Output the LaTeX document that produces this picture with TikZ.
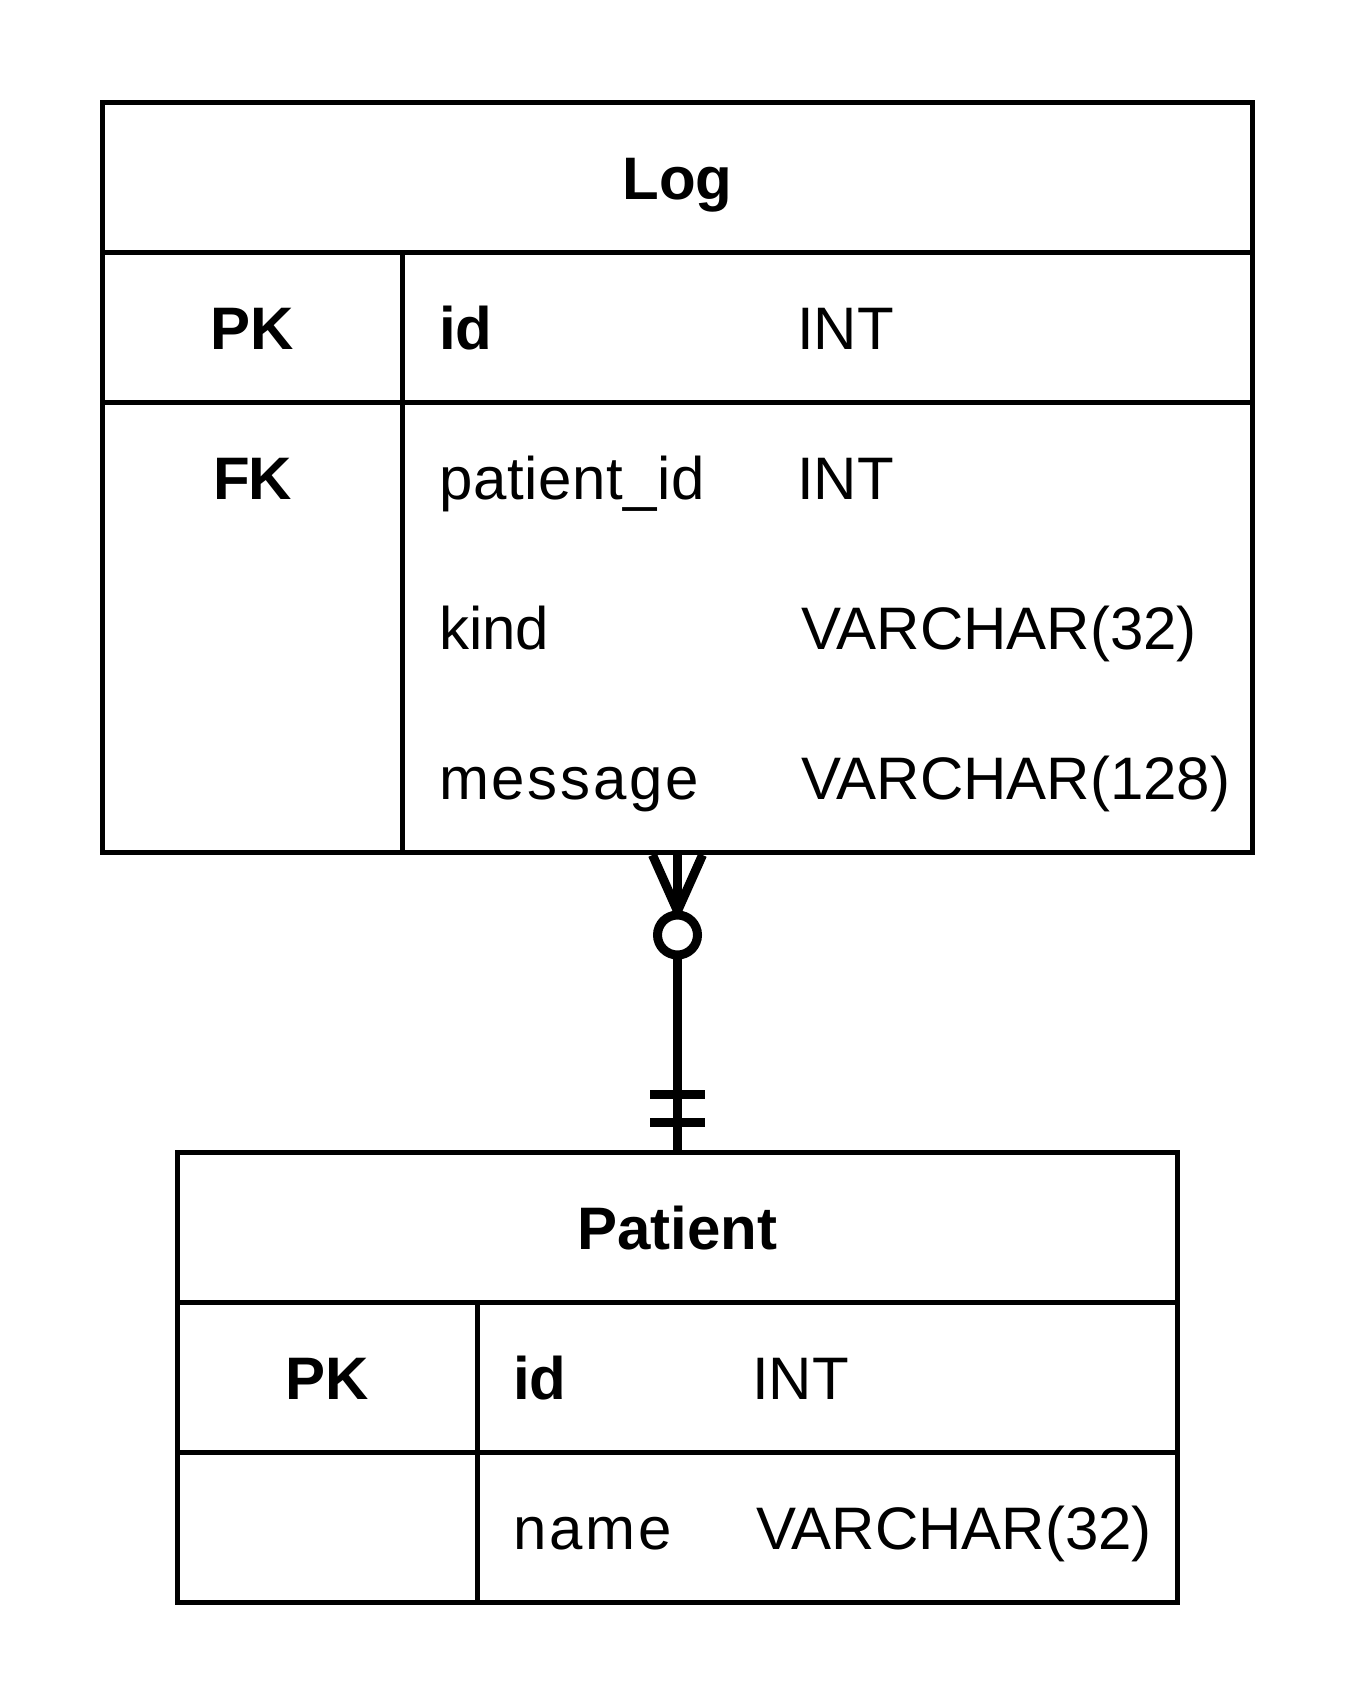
\documentclass[tikz,border=0pt]{standalone}
\usepackage{fontspec}
\setmainfont{Liberation Sans}
\usetikzlibrary{calc}
\tikzset{
  tbl/.style={draw=black, line width=5pt, inner sep=0pt, fill=white},
  rule/.style={draw=black, line width=5pt},
  txt/.style={inner sep=0pt, font=\fontsize{60}{72}\selectfont, text=black},
  keytxt/.style={txt, anchor=base, font=\fontsize{60}{72}\selectfont\bfseries},
  fldtxt/.style={txt, anchor=base west},
  conn/.style={draw=black, line width=9pt},
}
\begin{document}
\begin{tikzpicture}[x=1pt, y=-1pt]
\useasboundingbox (0,0) rectangle (1355,1705);
% Log table
\node[tbl, minimum width=1150pt, minimum height=750pt] (log) at (677.5,477.5) {};
\draw[rule] (102.5,252.5) -- (1252.5,252.5);
\draw[rule] (102.5,402.5) -- (1252.5,402.5);
\draw[rule] (402.5,252.5) -- (402.5,852.5);
\node[keytxt] (logtitle) at (677.5,199) {Log};
\node[keytxt] (logpk) at (252.5,349) {PK};
\node[keytxt] (logfk) at (252.5,499) {F\kern-2pt K};
\node[fldtxt] (logid) at (439,349) {\bfseries id};
\node[fldtxt] (logidt) at (797,349) {INT};
\node[fldtxt] (logpid) at (439,499) {\addfontfeature{LetterSpace=1}patient\_id};
\node[fldtxt] (logpidt) at (797,499) {INT};
\node[fldtxt] (logkind) at (439,649) {kind};
\node[fldtxt] (logkindt) at (801,649) {VARCHAR(32)};
\node[fldtxt] (logmsg) at (439,799) {\addfontfeature{LetterSpace=4.5}message};
\node[fldtxt] (logmsgt) at (801,799) {VARCHAR(128)};
% Patient table
\node[tbl, minimum width=1000pt, minimum height=450pt] (patient) at (677.5,1377.5) {};
\draw[rule] (177.5,1302.5) -- (1177.5,1302.5);
\draw[rule] (177.5,1452.5) -- (1177.5,1452.5);
\draw[rule] (477.5,1302.5) -- (477.5,1602.5);
\node[keytxt] (pattitle) at (677.5,1249) {Patient};
\node[keytxt] (patpk) at (327.5,1399) {PK};
\node[fldtxt] (patid) at (513,1399) {\bfseries id};
\node[fldtxt] (patidt) at (752,1399) {INT};
\node[fldtxt] (patname) at (513,1549) {\addfontfeature{LetterSpace=5}name};
\node[fldtxt] (patnamet) at (756,1549) {VARCHAR(32)};
% connector
\draw[conn] (log.south) -- (patient.north);
\draw[conn, line join=round] ($(log.south)+(-25,0)$) -- ($(log.south)+(0,56)$) -- ($(log.south)+(25,0)$);
\draw[conn, fill=white] ($(log.south)+(0,80)$) circle (20pt);
\draw[conn] ($(patient.north)+(-27.5,-55.5)$) -- ($(patient.north)+(27.5,-55.5)$);
\draw[conn] ($(patient.north)+(-27.5,-27.5)$) -- ($(patient.north)+(27.5,-27.5)$);
\end{tikzpicture}
\end{document}
